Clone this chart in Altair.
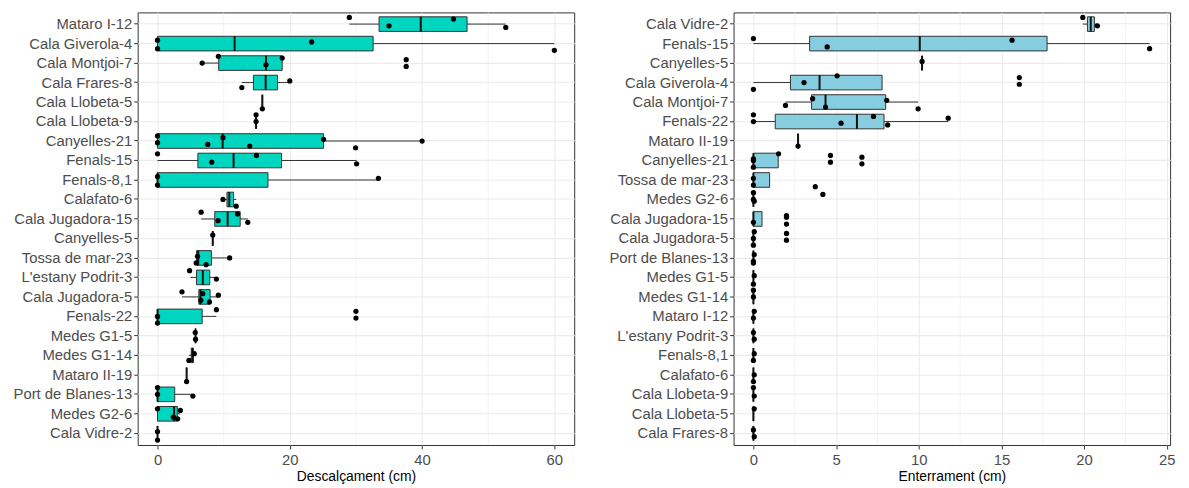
import altair as alt
import pandas as pd

# ---------------- Left panel: Descalçament (cm) ----------------
desc_sites = ["Mataro I-12", "Cala Giverola-4", "Cala Montjoi-7", "Cala Frares-8",
              "Cala Llobeta-5", "Cala Llobeta-9", "Canyelles-21", "Fenals-15",
              "Fenals-8,1", "Calafato-6", "Cala Jugadora-15", "Canyelles-5",
              "Tossa de mar-23", "L'estany Podrit-3", "Cala Jugadora-5", "Fenals-22",
              "Medes G1-5", "Medes G1-14", "Mataro II-19", "Port de Blanes-13",
              "Medes G2-6", "Cala Vidre-2"]
desc_lo = [29.0, 0, 6.75, 12.75, 15.85, 14.9, 0, 0, 0, 9.95, 6.6, 8.35,
           5.85, 5.0, 3.7, 0, 5.75, 4.75, 4.4, 0, 0, 0]
desc_q1 = [33.5, 0, 9.25, 14.5, 15.85, 14.9, 0, 6.1, 0, 10.5, 8.65, 8.35,
           5.9, 5.9, 6.25, 0, 5.75, 5.1, 4.4, 0, 0, 0]
desc_med = [39.8, 11.65, 16.4, 16.35, 15.85, 14.9, 9.85, 11.5, 0, 10.85, 10.6, 8.35,
            6.15, 6.85, 6.5, 0, 5.75, 5.3, 4.4, 0, 2.5, 0]
desc_q3 = [46.8, 32.6, 18.85, 18.15, 15.85, 14.9, 25.1, 18.75, 16.7, 11.5, 12.5, 8.35,
           8.15, 7.9, 7.95, 6.75, 5.75, 5.4, 4.4, 2.6, 3.0, 0]
desc_hi = [52.6, 60.0, 18.85, 19.9, 15.85, 14.9, 40.0, 30.1, 33.4, 11.9, 13.65, 8.35,
           10.8, 8.85, 9.1, 8.9, 5.75, 5.55, 4.4, 5.25, 3.45, 0]
desc_points = [
    [29.0, 35.0, 44.75, 52.65],
    [0, 0, 23.3, 60.0],
    [6.75, 9.2, 16.4, 18.85, 37.6, 37.6],
    [12.75, 20.0],
    [15.85],
    [14.9, 14.9],
    [0, 0, 7.6, 9.9, 13.95, 25.1, 29.95, 40.0],
    [0, 8.2, 14.95, 30.1],
    [0, 0, 33.4],
    [11.9, 9.9],
    [6.6, 9.15, 12.1, 13.65],
    [8.35],
    [5.85, 6.05, 7.35, 10.9],
    [4.85, 8.9],
    [3.7, 6.55, 6.85, 7.85, 9.2],
    [0, 0, 8.9, 30.0, 30.0],
    [5.75, 5.7],
    [4.75, 5.55],
    [4.4],
    [0, 0, 5.35],
    [0, 2.4, 3.45, 3.05],
    [0, 0],
]
desc_ticks = [0, 20, 40, 60]
desc_minor = [10, 30, 50]

# ---------------- Right panel: Enterrament (cm) ----------------
ent_sites = ["Cala Vidre-2", "Fenals-15", "Canyelles-5", "Cala Giverola-4",
             "Cala Montjoi-7", "Fenals-22", "Mataro II-19", "Canyelles-21",
             "Tossa de mar-23", "Medes G2-6", "Cala Jugadora-15", "Cala Jugadora-5",
             "Port de Blanes-13", "Medes G1-5", "Medes G1-14", "Mataro I-12",
             "L'estany Podrit-3", "Fenals-8,1", "Calafato-6", "Cala Llobeta-9",
             "Cala Llobeta-5", "Cala Frares-8"]
ent_lo = [19.92, 0, 10.2, 0, 1.94, 0, 2.7, 0, 0, 0, 0, 0, 0, 0, 0, 0, 0, 0, 0, 0, 0, 0]
ent_q1 = [20.2, 3.4, 10.2, 2.24, 3.52, 1.32, 2.7, 0, 0, 0, 0, 0, 0, 0, 0, 0, 0, 0, 0, 0, 0, 0]
ent_med = [20.4, 10.06, 10.2, 4.0, 4.36, 6.26, 2.7, 0, 0, 0, 0, 0, 0, 0, 0, 0, 0, 0, 0, 0, 0, 0]
ent_q3 = [20.62, 17.76, 10.2, 7.78, 8.0, 7.9, 2.7, 1.5, 0.98, 0, 0.52, 0, 0, 0, 0, 0, 0, 0, 0, 0, 0, 0]
ent_hi = [20.8, 23.96, 10.2, 7.78, 9.96, 11.78, 2.7, 1.5, 0.98, 0.05, 0.52, 0.05, 0.05, 0.05,
          0, 0.05, 0.05, 0.05, 0.05, 0.05, 0.05, 0.05]
ent_points = [
    [19.92, 20.8],
    [0, 4.46, 15.64, 23.96],
    [10.2],
    [0, 3.06, 5.06, 16.08, 16.08],
    [1.94, 3.58, 4.36, 8.06, 9.96],
    [0, 0, 5.3, 7.26, 8.12, 11.78],
    [2.7],
    [0, 0, 0, 1.52, 4.66, 4.66, 6.56, 6.56],
    [0, 0, 3.74],
    [0, 0, 0.05, 4.2],
    [0, 2.0, 2.0, 2.0],
    [0, 0, 0.05, 2.0, 2.0],
    [0, 0.05, 0],
    [0.05, 0],
    [0, 0],
    [0, 0.05],
    [0.05, 0],
    [0, 0.05],
    [0, 0.05],
    [0, 0.05],
    [0.05],
    [0.05, 0],
]
ent_ticks = [0, 5, 10, 15, 20, 25]
ent_minor = [2.5, 7.5, 12.5, 17.5, 22.5]

W = 441
H = 437
STEP = H / 22.2
FONT = "Liberation Sans"


def panel(sites, lo, q1, med, q3, hi, pts, ticks, minor, domain, xtitle, fill):
    stats = pd.DataFrame({"site": sites, "lo": lo, "q1": q1, "med": med, "q3": q3, "hi": hi})
    rows = []
    k = 0
    for s, vals in zip(sites, pts):
        for v in vals:
            rows.append({"site": s, "value": v, "k": k})
            k += 1
    points = pd.DataFrame(rows)
    minor_df = pd.DataFrame({"m": minor})

    xscale = alt.Scale(domain=domain, nice=False, zero=False)
    yenc = alt.Y("site:N", sort=sites, title=None,
                 scale=alt.Scale(paddingInner=0, paddingOuter=0.1),
                 axis=alt.Axis(bandPosition=0.5, minExtent=130, maxExtent=130))
    xaxis = alt.Axis(values=ticks, title=xtitle)

    grid_minor = alt.Chart(minor_df).mark_rule(color="#EBEBEB", strokeWidth=0.6).encode(
        x=alt.X("m:Q", scale=xscale, axis=xaxis)
    )
    base = alt.Chart(stats)
    whisk = base.mark_rule(color="#333333", strokeWidth=1).encode(
        x=alt.X("lo:Q", scale=xscale, axis=xaxis), x2="hi:Q", y=yenc
    )
    box = base.mark_bar(fill=fill, stroke="#333333", strokeWidth=1,
                        height={"band": 0.75}).encode(
        x=alt.X("q1:Q", scale=xscale, axis=xaxis), x2="q3:Q", y=yenc
    )
    median = base.mark_tick(color="#111111", size=0.75 * STEP, thickness=2, opacity=1).encode(
        x=alt.X("med:Q", scale=xscale, axis=xaxis), y=yenc
    )
    dots = alt.Chart(points).mark_circle(
        color="black", size=28, opacity=1,
        yOffset=alt.expr("((datum.k * 5) % 9 - 4) * 1.7")
    ).encode(
        x=alt.X("value:Q", scale=xscale, axis=xaxis), y=yenc
    )
    return alt.layer(grid_minor, whisk, box, median, dots).properties(width=W, height=H)


left = panel(desc_sites, desc_lo, desc_q1, desc_med, desc_q3, desc_hi, desc_points,
             desc_ticks, desc_minor, [-3.0, 63.0], "Descalçament (cm)", "#00D5C0")
right = panel(ent_sites, ent_lo, ent_q1, ent_med, ent_q3, ent_hi, ent_points,
              ent_ticks, ent_minor, [-1.2, 25.2], "Enterrament (cm)", "#86CEDF")

chart = alt.hconcat(left, right, spacing=29).properties(
    padding={"left": 0, "top": 1, "right": 5, "bottom": 2}
).configure_view(
    stroke="#333333", strokeWidth=1
).configure_axis(
    labelFont=FONT, titleFont=FONT, labelFontSize=15, labelColor="#4D4D4D",
    titleFontSize=14, titleFontWeight="normal", titleColor="black",
    tickColor="#333333", tickSize=4, domain=False, grid=True,
    gridColor="#EBEBEB", gridWidth=1.1, labelPadding=2, titlePadding=2
).configure_axisX(
    labelPadding=4, titlePadding=2
)

chart.save("out.html", embed_options={"renderer": "svg", "actions": False})
